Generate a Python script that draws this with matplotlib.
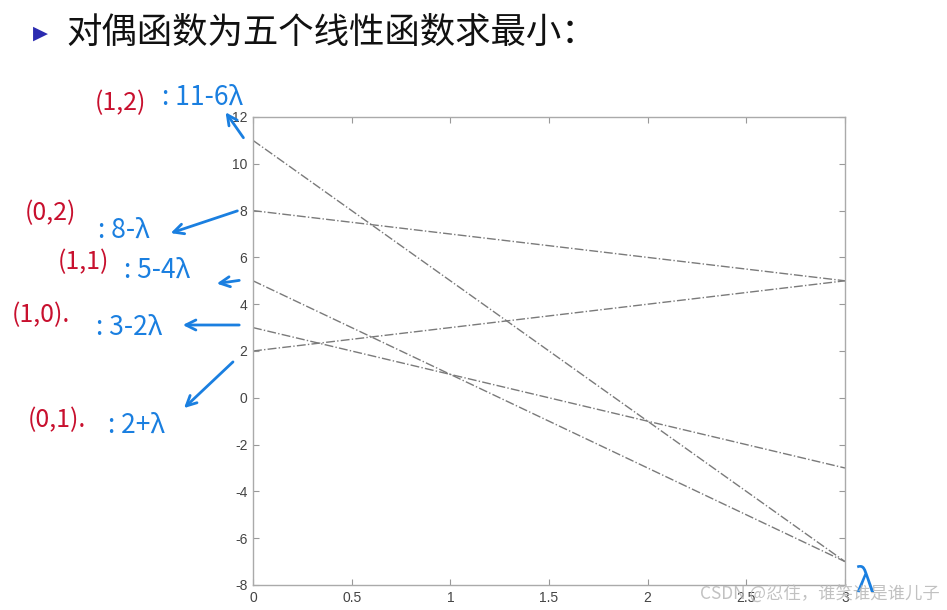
import matplotlib
matplotlib.use("Agg")
import matplotlib.pyplot as plt

plt.rcParams['font.family'] = ['Noto Sans CJK SC', 'DejaVu Sans']
plt.rcParams['axes.unicode_minus'] = False

# Data: five linear dual functions, values at lambda = 0 and lambda = 3
lam = [0, 3]
f_11_6 = [11, -7]   # (1,2): 11-6λ
f_8_1 = [8, 5]      # (0,2): 8-λ
f_5_4 = [5, -7]     # (1,1): 5-4λ
f_3_2 = [3, -3]     # (1,0): 3-2λ
f_2_1 = [2, 5]      # (0,1): 2+λ
series = [f_11_6, f_8_1, f_5_4, f_3_2, f_2_1]

xticks = [0, 0.5, 1, 1.5, 2, 2.5, 3]
xticklabels = ['0', '0.5', '1', '1.5', '2', '2.5', '3']
yticks = [-8, -6, -4, -2, 0, 2, 4, 6, 8, 10, 12]

W, H = 947, 610
fig = plt.figure(figsize=(W / 100, H / 100), dpi=100)
ax = fig.add_axes([253 / W, 1 - 585 / H, (845 - 253) / W, (585 - 117) / H])

for s in series:
    ax.plot(lam, s, linestyle='-.', color='#7a7a7a', linewidth=1.0)

ax.set_xlim(0, 3)
ax.set_ylim(-8, 12)
ax.set_xticks(xticks)
ax.set_xticklabels(xticklabels)
ax.set_yticks(yticks)
ax.tick_params(direction='in', length=4, color='#999999', labelcolor='#444444',
               labelsize=10, top=True, right=True, pad=4)
for lab in ax.get_xticklabels() + ax.get_yticklabels():
    lab.set_family(['Liberation Sans'])
for sp in ax.spines.values():
    sp.set_color('#aaaaaa')
    sp.set_linewidth(1.0)

def fp(x, y):
    return (x, H - y)

# Title line
fig.text(33 / W, 1 - 33 / H, '▶', color='#2b2bb0', fontsize=14, va='center',
         family=['DejaVu Sans'])
fig.text(66 / W, 1 - 33 / H, '对偶函数为五个线性函数求最小：', color='#111111',
         fontsize=25.5, va='center')

red = '#c8102e'
blue = '#1a7fe0'

labels = [
    ('(1,2)', 95, 103, ': 11-6λ', 162, 97),
    ('(0,2)', 25, 213, ': 8-λ', 98, 230),
    ('(1,1)', 58, 262, ': 5-4λ', 124, 270),
    ('(1,0).', 12, 315, ': 3-2λ', 96, 327),
    ('(0,1).', 28, 420, ': 2+λ', 108, 425),
]
for rt, rx, ry, bt, bx, by in labels:
    fig.text(rx / W, 1 - ry / H, rt, color=red, fontsize=18, va='center')
    fig.text(bx / W, 1 - by / H, bt, color=blue, fontsize=19, va='center')

arrows = [
    ((245, 140), (224, 110)),
    ((240, 210), (168, 234)),
    ((242, 280), (214, 284)),
    ((242, 325), (180, 325)),
    ((235, 360), (182, 410)),
]
for (x0, y0), (x1, y1) in arrows:
    ax.annotate('', xy=fp(x1, y1), xytext=fp(x0, y0),
                xycoords='figure pixels', textcoords='figure pixels',
                arrowprops=dict(arrowstyle='->', color=blue, lw=2,
                                mutation_scale=18),
                annotation_clip=False)

fig.text(855 / W, 1 - 582 / H, 'λ', color=blue, fontsize=24, va='center')

# Watermark
fig.text(700 / W, 1 - 595 / H, 'CSDN @忍住，谁笑谁是谁儿子', color='#bbbbbb',
         fontsize=12.5, va='center', alpha=0.9)

fig.savefig('out.png', dpi=100)
